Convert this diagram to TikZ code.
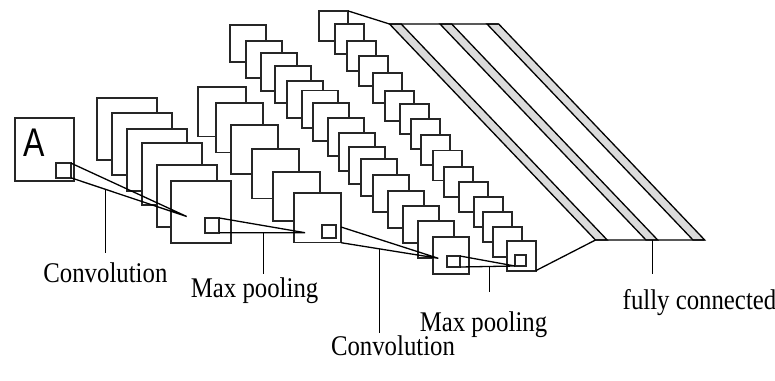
\documentclass[tikz,border=0pt]{standalone}
\usepackage{graphicx}
\usepackage{fontspec}
\setmainfont{Liberation Serif}
\newfontfamily\handfont{Liberation Sans}
\begin{document}
\begin{tikzpicture}[x=1pt,y=-1pt,
  fm/.style={draw=black!85, fill=white, line width=1.8pt},
  lk/.style={line width=1.3pt},
  tick/.style={line width=1pt},
  lbl/.style={font=\fontsize{28.5}{30}\selectfont, inner sep=0pt, anchor=base},
  strip/.style={draw=black, fill=black!14, line width=1.3pt, line join=miter}]
\useasboundingbox (0,0) rectangle (775,380);

% input image
\draw[fm] (15,118) rectangle (74,181);
\node[font=\handfont\fontsize{40}{40}\selectfont, inner sep=0pt] (A) at (34,142.5) {\scalebox{0.8}[1]{A}};
\draw[fm] (56,163) rectangle (70.7,177.7);

% convolution 1
\foreach \x/\y in {96.7/97.7, 111.7/113.3, 126.7/129, 141.7/142.7, 156.7/165, 171/180.7}
  \draw[fm] (\x,\y) rectangle ++(60,62);
\draw[fm] (205,218) rectangle (219.3,232.7);

% max pooling 1
\foreach \x/\y in {198.3/87.3, 216/103.3, 231/125, 251.7/149.3, 272.7/171.7, 294/193.3}
  \draw[fm] (\x,\y) rectangle ++(47.3,49.2);
\draw[fm] (321.7,225) rectangle ++(14.3,13);

% convolution 2
\foreach \x/\y in {230/24.7, 245.7/40.7, 260.7/53.3, 275/65.7, 286.7/81, 301.7/90.5, 313.3/103.3, 328.3/118.3, 339.3/133.3, 349.3/146.7, 361/159, 373.3/175, 388.3/190.7, 403.3/206, 418.3/221, 432.7/236.7}
  \draw[fm] (\x,\y) rectangle ++(36,37.3);
\draw[fm] (447.3,256) rectangle (460,267);

% max pooling 2
\foreach \x/\y in {319.3/11, 335/24, 346.7/40.7, 358.7/56, 373.3/73.3, 385.3/90.7, 400/104, 410.7/118.7, 420.7/135, 432.7/150.5, 444.3/166.7, 459.3/181.7, 474/196.7, 483.3/211.7, 492.7/226.7, 506.7/240.7}
  \draw[fm] (\x,\y) rectangle ++(29,30);
\draw[fm] (515,255) rectangle (526,265.7);

% fully connected
\coordinate (p2top) at (348.3,11);
\coordinate (p2bot) at (535.7,270.7);
\coordinate (fcTL) at (389.5,24);
\coordinate (fcTR) at (498.7,24);
\coordinate (fcBL) at (595.5,240);
\coordinate (fcBR) at (704.7,240);
\draw[strip] (389.5,24) -- (401.2,24) -- (607.2,240) -- (595.5,240) -- cycle;
\draw[strip] (440,24) -- (451.7,24) -- (657.7,240) -- (646,240) -- cycle;
\draw[strip] (487,24) -- (498.7,24) -- (704.7,240) -- (693,240) -- cycle;
\draw[lk] (p2top) -- (fcTL) -- (fcTR);
\draw[lk] (p2bot) -- (fcBL) -- (fcBR);

% converging connectors
\coordinate (i1) at (70.7,163);
\coordinate (i2) at (70.7,177.7);
\coordinate (c1) at (186.7,216.5);
\coordinate (s1a) at (219.3,218);
\coordinate (s1b) at (219.3,232.7);
\coordinate (p1) at (305,232.7);
\coordinate (s2a) at (341,227);
\coordinate (s2b) at (341,242.7);
\coordinate (c2) at (438.3,258.3);
\coordinate (s3a) at (460,256);
\coordinate (s3b) at (460,267);
\coordinate (p2) at (515,266);
\draw[lk] (i1) -- (c1) -- (i2);
\draw[lk] (s1a) -- (p1) -- (s1b);
\draw[lk] (s2a) -- (c2) -- (s2b);
\draw[lk] (s3a) -- (p2) -- (s3b);

% label leaders
\coordinate (t1) at (105,189.2);   \coordinate (b1) at (105,252.5);
\coordinate (t2) at (263.3,232.7); \coordinate (b2) at (263.3,274);
\coordinate (t3) at (379.3,248.8); \coordinate (b3) at (379.3,333);
\coordinate (t4) at (489.3,266.5); \coordinate (b4) at (489.3,292);
\coordinate (t5) at (652.3,240);   \coordinate (b5) at (652.3,274);
\draw[tick] (t1) -- (b1);
\draw[tick] (t2) -- (b2);
\draw[tick] (t3) -- (b3);
\draw[tick] (t4) -- (b4);
\draw[tick] (t5) -- (b5);

% labels
\node[lbl] (L1) at (105.4,282) {\scalebox{0.87}[1]{Convolution}};
\node[lbl] (L2) at (254.6,297.5) {\scalebox{0.87}[1]{Max pooling}};
\node[lbl] (L3) at (393,355.5) {\scalebox{0.87}[1]{Convolution}};
\node[lbl] (L4) at (483.5,331.5) {\scalebox{0.87}[1]{Max pooling}};
\node[lbl] (L5) at (699.5,309) {\scalebox{0.87}[1]{fully connected}};
\end{tikzpicture}
\end{document}
